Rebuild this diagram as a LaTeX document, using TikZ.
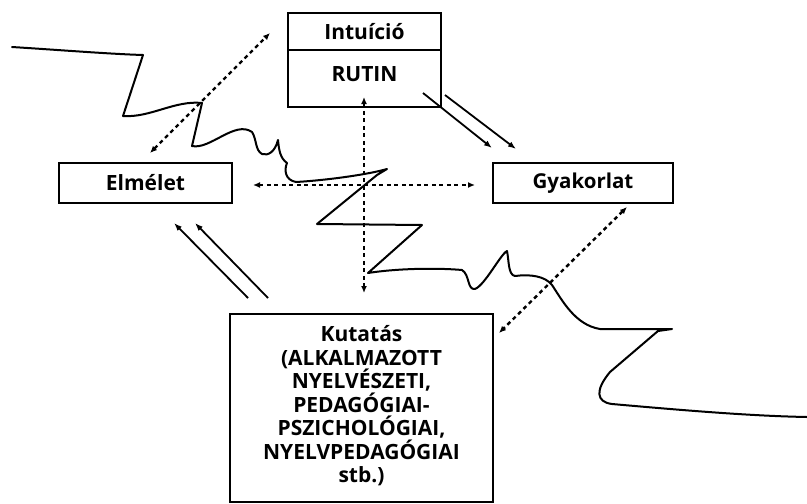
\documentclass[tikz,border=0pt]{standalone}
\usepackage{fontspec}
\setmainfont{Open Sans}
\usetikzlibrary{arrows.meta}
\newcommand{\lblfont}{\fontsize{21}{23.5}\selectfont\bfseries}
\begin{document}
\begin{tikzpicture}[x=1pt,y=-1pt,
  box/.style={draw,line width=1.9pt,inner sep=0pt},
  lbl/.style={font=\lblfont,inner sep=0pt,align=center},
  dsh/.style={line width=2.4pt,dash pattern=on 4pt off 3.5pt,{Latex[length=7pt,width=6pt]}-{Latex[length=7pt,width=6pt]}},
  sol/.style={line width=1.8pt,-{Latex[length=8pt,width=6pt]}},
  wave/.style={line width=2pt,line join=round,line cap=round}]
\useasboundingbox (0,0) rectangle (807,504);
% boxes
\node[box,minimum width=153pt,minimum height=94pt] (intbox) at (364.5,60) {};
\draw[line width=1.9pt] (intbox.west |- 0,50) coordinate (dl) -- (intbox.east |- 0,50) coordinate (dr);
\node[lbl] (intu) at (364.5,32) {Intuíció};
\node[lbl] (rutin) at (364.5,74) {RUTIN};
\node[box,minimum width=173pt,minimum height=40pt] (elm) at (145.5,183) {};
\node[lbl] (elmt) at (145.5,183) {Elmélet};
\node[box,minimum width=180pt,minimum height=40pt] (gyak) at (583,183) {};
\node[lbl,font=\fontsize{20.5}{23.5}\selectfont\bfseries] (gyakt) at (583,183) {Gyakorlat};
\node[box,minimum width=263pt,minimum height=188pt] (kut) at (361.5,408) {};
\node[lbl] (kutt) at (361.5,406) {Kutatás\\(ALKALMAZOTT\\NYELVÉSZETI,\\PEDAGÓGIAI-\\PSZICHOLÓGIAI,\\NYELVPEDAGÓGIAI\\stb.)};
% coordinates for arrow ends
\coordinate (a1) at (150,153); \coordinate (a2) at (270,33);
\coordinate (v1) at (364,97);  \coordinate (v2) at (364,293);
\coordinate (h1) at (253,185); \coordinate (h2) at (475,185);
\coordinate (g1) at (627,207); \coordinate (g2) at (499,333);
\coordinate (r1) at (423,93);  \coordinate (r2) at (492,148);
\coordinate (s1) at (445,95);  \coordinate (s2) at (516,149);
\coordinate (k1) at (248,298); \coordinate (k2) at (174,223);
\coordinate (m1) at (268,298); \coordinate (m2) at (195,223);
% dashed arrows
\draw[dsh] (a1) -- (a2);
\draw[dsh] (v1) -- (v2);
\draw[dsh] (h1) -- (h2);
\draw[dsh] (g1) -- (g2);
% solid double arrows
\draw[sol] (r1) -- (r2);
\draw[sol] (s1) -- (s2);
\draw[sol] (k1) -- (k2);
\draw[sol] (m1) -- (m2);
% freehand line
\draw[wave] (12,47) .. controls (60,50) and (110,54) .. (143,55) -- (123,116)
  .. controls (150,118) and (175,100) .. (202,103) -- (192,146)
  .. controls (210,150) and (235,120) .. (252,132)
  .. controls (257,140) and (255,150) .. (262,154)
  .. controls (268,156) and (275,152) .. (278,140)
  .. controls (279,150) and (280,158) .. (287,163)
  .. controls (284,170) and (285,180) .. (296,182)
  .. controls (330,180) and (370,174) .. (387,169) -- (377,175) -- (317,224) -- (422,225) -- (368,273)
  .. controls (400,268) and (440,268) .. (462,270)
  .. controls (470,275) and (467,290) .. (475,289)
  .. controls (485,285) and (500,255) .. (507,251)
  .. controls (509,260) and (508,275) .. (515,276)
  .. controls (530,274) and (545,276) .. (552,285)
  .. controls (562,300) and (575,325) .. (600,329) -- (672,329) -- (658,331) -- (610,372)
  .. controls (595,390) and (596,402) .. (612,404)
  .. controls (680,410) and (750,416) .. (807,417);
\end{tikzpicture}
\end{document}
